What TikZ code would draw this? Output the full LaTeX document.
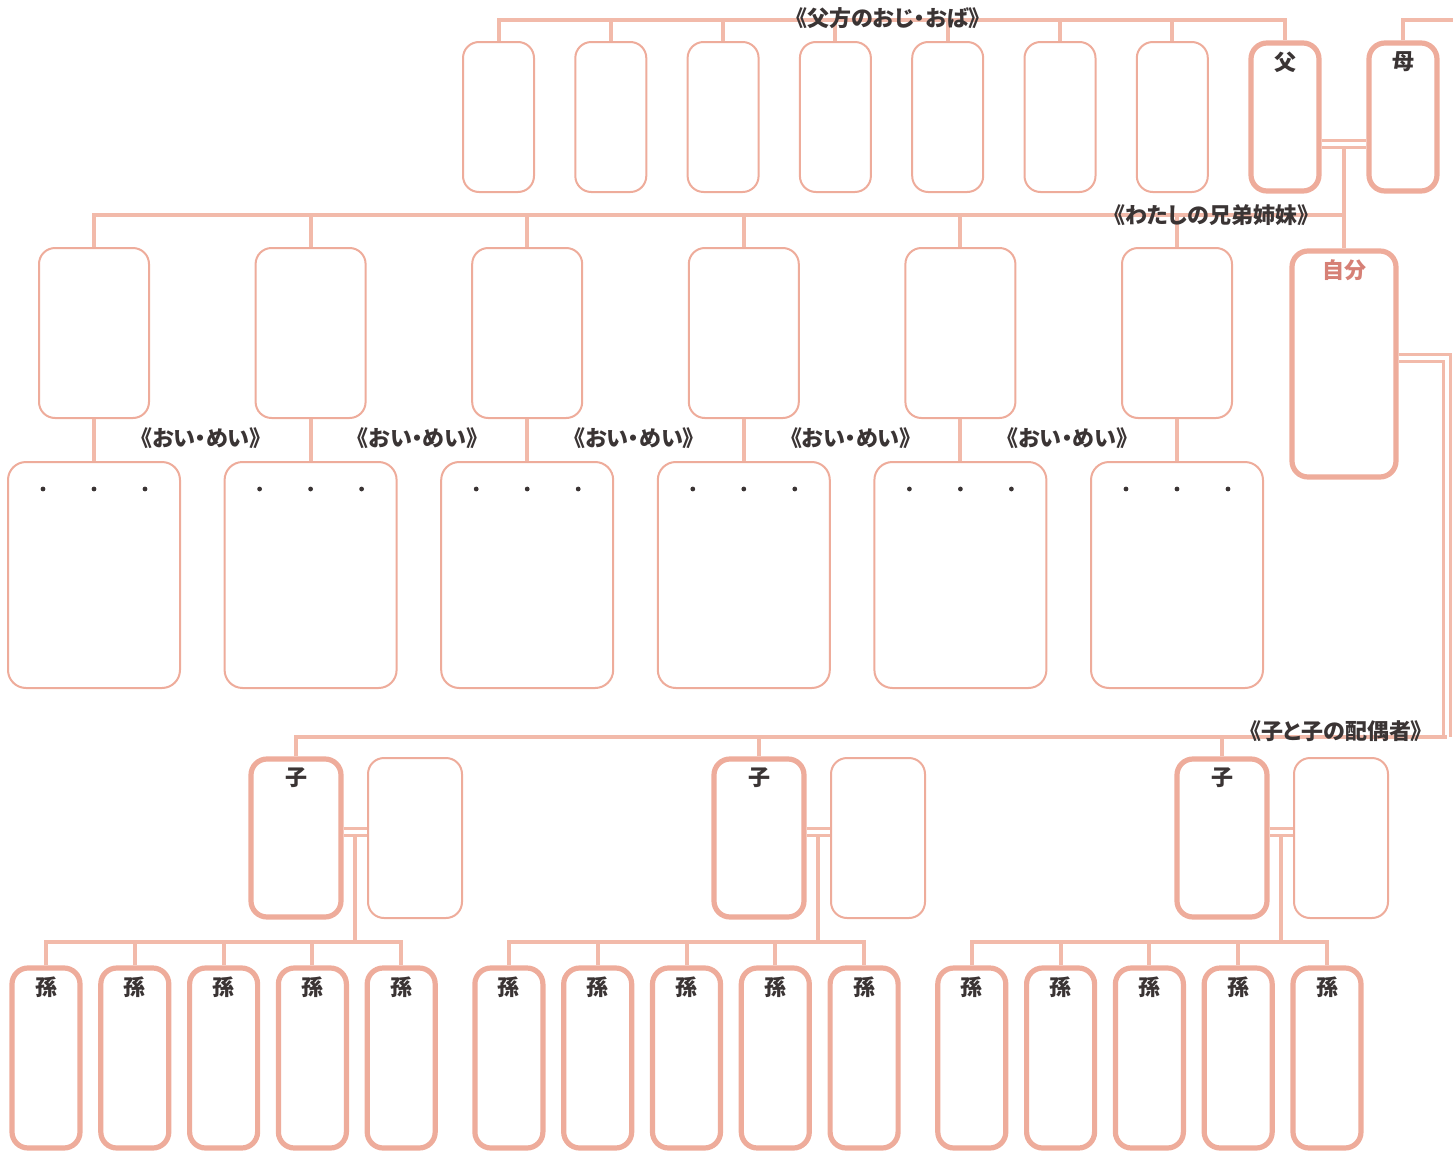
\documentclass[tikz,border=0pt]{standalone}
\usepackage{fontspec}
\newfontfamily\jp[RawFeature=+palt]{Noto Sans CJK JP}
\usetikzlibrary{positioning, calc}
\definecolor{linepink}{RGB}{242,186,170}
\definecolor{boxpink}{RGB}{238,172,155}
\definecolor{selfpink}{RGB}{214,128,118}
\definecolor{inkgray}{RGB}{58,52,52}

\tikzset{
  link/.style={draw=linepink, line width=2pt},
  wed/.style={draw=linepink, line width=1.5pt, double=white, double distance=2.2pt},
  thinbox/.style={draw=boxpink, line width=1pt, rounded corners=8pt, fill=white, inner sep=0pt},
  thickbox/.style={draw=boxpink, line width=2.6pt, rounded corners=8pt, fill=white, inner sep=0pt},
  tag/.style={font=\jp\bfseries\fontsize{11pt}{13pt}\selectfont, text=inkgray, inner sep=0pt},
  boxtag/.style={font=\jp\bfseries\fontsize{11pt}{13pt}\selectfont, text=inkgray, inner sep=0pt},
  inlabel/.style={label={[boxtag, anchor=north, yshift=-5.5pt]north:#1}},
  ojibox/.style={thinbox, minimum width=35.5pt, minimum height=75pt},
  parentbox/.style={thickbox, minimum width=34pt, minimum height=74pt},
  sibbox/.style={thinbox, minimum width=55pt, minimum height=85pt},
  nephbox/.style={thinbox, minimum width=86pt, minimum height=113pt, rounded corners=9pt},
  selfbox/.style={thickbox, minimum width=52pt, minimum height=113pt},
  kidbox/.style={thickbox, minimum width=45pt, minimum height=79pt},
  matebox/.style={thinbox, minimum width=47pt, minimum height=80pt},
  grandbox/.style={thickbox, minimum width=34pt, minimum height=90pt}
}

\begin{document}
\begin{tikzpicture}[x=0.5pt, y=-0.5pt]
    \useasboundingbox (0,0) rectangle (1453,1157);
    \clip (0,0) rectangle (1453,1157);

    % Joints on the bars
    \coordinate (topbar) at (0,20);
    \coordinate (mobar) at (1460,20);
    \coordinate (fmw) at (1344,144);
    \coordinate (fmdrop) at (1344,149);
    \coordinate (sibjoin) at (1344,215);
    \coordinate (selfjoin) at (1447,358);
    \coordinate (kidjoin) at (1447,737);
    \coordinate (gbar) at (0,942);

    % Father's siblings and parents
    \foreach \i in {1,...,7}
        \node[ojibox] (ob\i) at ({498.5+112.3*(\i-1)},117) {};
    \node[parentbox, inlabel=父] (fa) at (1285,117) {};
    \node[parentbox, inlabel=母] (mo) at (1403,117) {};

    % My siblings, nephews and nieces
    \foreach \i in {1,...,6} {
        \node[sibbox] (sb\i) at ({94+216.6*(\i-1)},333) {};
        \node[nephbox] (nb\i) at ({94+216.6*(\i-1)},575) {};
        \foreach \d in {-51,0,51}
            \fill[inkgray] ($(nb\i.north)+(\d,28)$) circle (1.2pt);
    }
    \node[selfbox, label={[boxtag, text=selfpink, anchor=north, yshift=-5.5pt]north:自分}] (me) at (1344,364) {};

    % Children and their spouses
    \foreach \i in {1,2,3} {
        \node[kidbox, inlabel=子] (c\i) at ({296+463*(\i-1)},838) {};
        \node[matebox] (sp\i) at ({415+463*(\i-1)},838) {};
        \coordinate (cw\i) at ({355+463*(\i-1)},832);
    }

    % Grandchildren
    \foreach \g in {1,2,3}
        \foreach \j in {1,...,5}
            \node[grandbox, inlabel=孫] (gc\g\j) at ({46+462.9*(\g-1)+88.8*(\j-1)},1058) {};

    % Connectors
    \draw[link] (ob1.north) -- (ob1.north |- topbar) -| (fa.north);
    \foreach \i in {2,...,7}
        \draw[link] (ob\i.north) -- (ob\i.north |- topbar);
    \draw[link] (mo.north) |- (mobar);
    \draw[wed] (fa.east |- fmw) -- (mo.west |- fmw);
    \draw[link] (fmdrop) -- (me.north);
    \draw[link] (sb1.north) |- (sibjoin);
    \foreach \i in {1,...,6} {
        \draw[link] (sb\i.north) -- (sb\i.north |- sibjoin);
        \draw[link] (sb\i.south) -- (nb\i.north);
    }
    \draw[wed] (me.east |- selfjoin) -| (kidjoin);
    \draw[link] (c1.north) |- (kidjoin);
    \foreach \i in {2,3}
        \draw[link] (c\i.north) -- (c\i.north |- kidjoin);
    \foreach \i in {1,2,3} {
        \draw[wed] (c\i.east |- cw\i) -- (sp\i.west |- cw\i);
        \draw[link] ($(cw\i)+(0,4)$) -- (cw\i |- gbar);
        \draw[link] (gc\i1.north) |- (gc\i5.north |- gbar) -- (gc\i5.north);
        \foreach \j in {2,3,4}
            \draw[link] (gc\i\j.north) -- (gc\i\j.north |- gbar);
    }

    % Group titles
    \node[tag] (ojitxt) at (888,18) {《父方のおじ・おば》};
    \node[tag] (sibtxt) at (1211,215) {《わたしの兄弟姉妹》};
    \foreach \i in {1,...,5}
        \node[tag] (oitxt\i) at ({201+216.6*(\i-1)},438) {《おい・めい》};
    \node[tag] (kidtxt) at (1336,731) {《子と子の配偶者》};
\end{tikzpicture}
\end{document}
